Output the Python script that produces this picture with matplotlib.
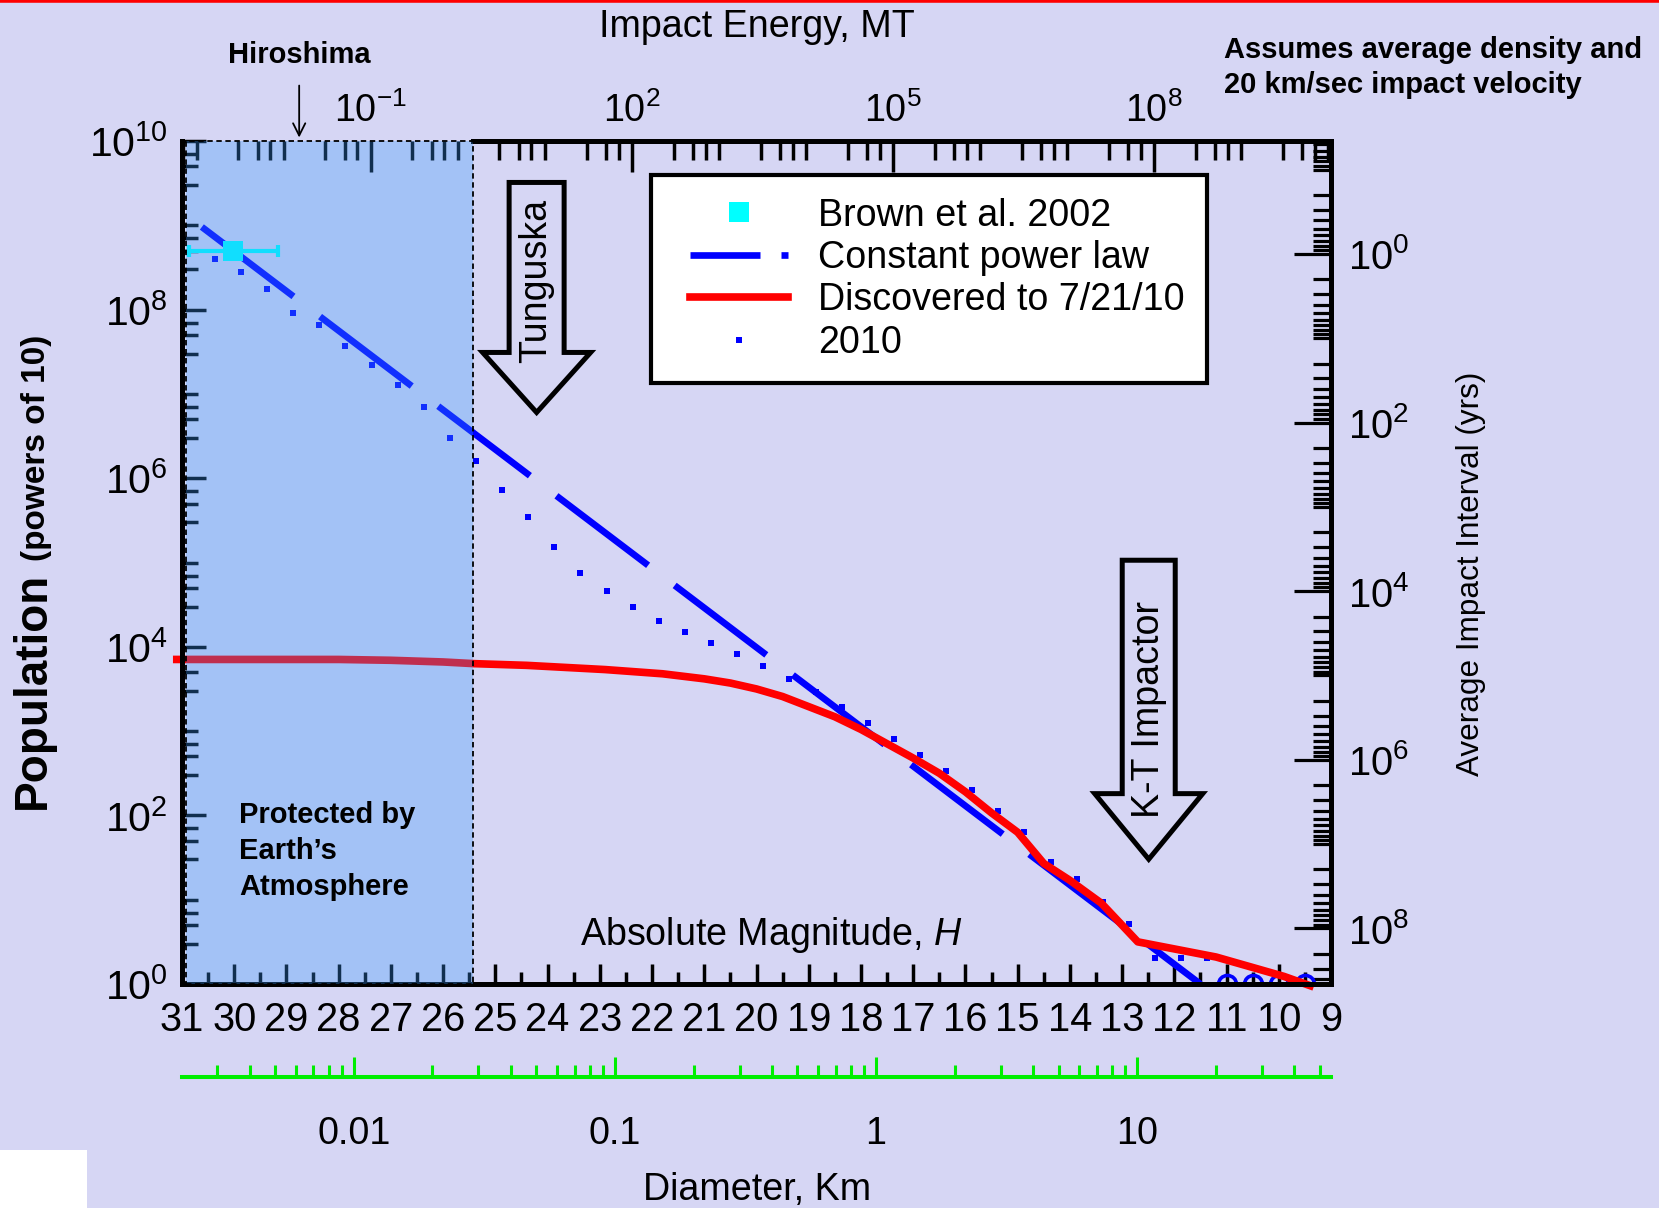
import numpy as np
import matplotlib
matplotlib.use("Agg")
import matplotlib.pyplot as plt
import matplotlib.transforms as mtransforms
from matplotlib import font_manager
from matplotlib.patches import Polygon, Rectangle
from matplotlib.lines import Line2D
from matplotlib.legend_handler import HandlerLine2D
from matplotlib.ticker import FixedLocator, FuncFormatter, NullFormatter

# ---------------- data ----------------
mag_range = [31, 9]
pop_range = [1e0, 1e10]

mag_major_ticks = list(range(9, 32))
mag_minor_ticks = [h + 0.5 for h in range(9, 31)]

pop_major_ticks = [1e0, 1e2, 1e4, 1e6, 1e8, 1e10]
pop_minor_ticks = [k * 10.0 ** n for n in range(0, 10) for k in (3, 5, 7)] + [10.0 ** n for n in (1, 3, 5, 7, 9)]

energy_major_ticks = [1e-1, 1e2, 1e5, 1e8]
energy_minor_ticks = [k * 10.0 ** n for n in range(-4, 11) for k in (1, 3, 5, 7)]

interval_major_ticks = [1e0, 1e2, 1e4, 1e6, 1e8]
interval_minor_ticks = [k * 10.0 ** n for n in range(-2, 10) for k in range(1, 10)]

diam_major_ticks = [0.01, 0.1, 1, 10]
diam_minor_ticks = [k * 10.0 ** n for n in range(-3, 2) for k in range(2, 10)]

brown_H = [30.02]
brown_logN = [8.69]
brown_Herr = [0.85]

powerlaw_H = [30.62, 11.5]
powerlaw_logN = [8.98, 0.0]

discovered_H = [31.1, 30.0, 29.0, 28.0, 27.0, 26.0, 25.4, 24.4, 22.9, 21.8, 21.0, 20.5,
                20.0, 19.5, 19.0, 18.5, 18.0, 17.5, 17.0, 16.5, 16.0, 15.5, 15.0, 14.5,
                14.0, 13.4, 12.7, 11.2, 9.9, 9.4]
discovered_logN = [3.85, 3.85, 3.85, 3.85, 3.84, 3.82, 3.80, 3.78, 3.73, 3.68, 3.62, 3.57,
                   3.50, 3.41, 3.29, 3.17, 3.02, 2.85, 2.68, 2.50, 2.28, 2.03, 1.80, 1.43,
                   1.23, 0.96, 0.50, 0.32, 0.09, -0.02]

est2010_H = [30.37, 29.87, 29.37, 28.87, 28.37, 27.87, 27.37, 26.87, 26.37, 25.87,
             25.37, 24.87, 24.37, 23.87, 23.37, 22.87, 22.37, 21.87, 21.37, 20.87,
             20.37, 19.87, 19.37, 18.87, 18.37, 17.87, 17.37, 16.87, 16.37, 15.87,
             15.37, 14.87, 14.37, 13.87, 13.37, 12.87, 12.37, 11.87, 11.37]
est2010_logN = [8.60, 8.45, 8.24, 7.96, 7.82, 7.57, 7.34, 7.10, 6.84, 6.48,
                6.20, 5.86, 5.54, 5.18, 4.88, 4.66, 4.47, 4.31, 4.18, 4.05,
                3.91, 3.77, 3.62, 3.46, 3.29, 3.10, 2.91, 2.72, 2.53, 2.30,
                2.05, 1.80, 1.45, 1.25, 0.97, 0.71, 0.31, 0.31, 0.31]

largest_H = [11.0, 10.5, 10.0, 9.5]
largest_logN = [0.0, 0.0, 0.0, 0.0]

atmosphere_H = [30.93, 25.43]
tunguska_tip = (24.21, 6.78)
kt_tip = (12.49, 1.48)
hiroshima_MT = 0.015

legend_labels = ['Brown et al. 2002', 'Constant power law', 'Discovered to 7/21/10', '2010']

# conversion constants
H_AT_1KM = 17.71
LOGE_AT_H0 = 15.43
LOG_K_INTERVAL = 8.66

# ---------------- fonts ----------------
_names = {f.name for f in font_manager.fontManager.ttflist}
NARROW = 'Liberation Sans Narrow' if 'Liberation Sans Narrow' in _names else 'Liberation Sans'
F = 1.0 if NARROW == 'Liberation Sans Narrow' else 0.82
S = 33 * F
plt.rcParams['font.family'] = [NARROW, 'DejaVu Sans']
plt.rcParams['mathtext.fontset'] = 'custom'
plt.rcParams['mathtext.default'] = 'regular'
plt.rcParams['mathtext.rm'] = NARROW
plt.rcParams['mathtext.it'] = NARROW + ':italic'

BG = '#d6d6f4'
GREEN = '#00ee00'
BLUE = '#0000ff'
RED = '#ff0000'
CYAN = '#00ffff'
SHADE = (56 / 255, 151 / 255, 252 / 255)


def h_to_diam(h):
    with np.errstate(all='ignore'):
        return 10 ** ((H_AT_1KM - np.asarray(h, float)) / 5)


def diam_to_h(d):
    with np.errstate(all='ignore'):
        return H_AT_1KM - 5 * np.log10(np.clip(np.asarray(d, float), 1e-300, None))


def h_to_energy(h):
    with np.errstate(all='ignore'):
        return 10 ** (LOGE_AT_H0 - 0.6 * np.asarray(h, float))


def energy_to_h(e):
    with np.errstate(all='ignore'):
        return (LOGE_AT_H0 - np.log10(np.clip(np.asarray(e, float), 1e-300, None))) / 0.6


def pop_to_interval(n):
    with np.errstate(all='ignore'):
        return 10 ** LOG_K_INTERVAL / np.clip(np.asarray(n, float), 1e-300, None)


def pow10(v, pos=None):
    return r'$10^{%d}$' % int(round(np.log10(v)))


W, Hpx = 1659, 1208
fig = plt.figure(figsize=(W / 100, Hpx / 100), dpi=100, facecolor=BG)
ax = fig.add_axes([182 / W, 1 - 984 / Hpx, 1149 / W, 843 / Hpx])
ax.set_facecolor(BG)
ax.set_yscale('log')
ax.set_xlim(mag_range)
ax.set_ylim(pop_range)

# ---------------- series ----------------
pl_line, = ax.plot(powerlaw_H, np.power(10.0, powerlaw_logN), color=BLUE, lw=4.8,
                   dashes=(17.25, 5), solid_capstyle='butt', zorder=2)
disc_line, = ax.plot(discovered_H, np.power(10.0, discovered_logN), color=RED, lw=5.5,
                     zorder=2.1, clip_on=False, solid_joinstyle='round')
dots, = ax.plot(est2010_H, np.power(10.0, est2010_logN), ls='none', marker='s', ms=4,
                mew=0, color=BLUE, zorder=2.05)
ax.plot(largest_H, np.power(10.0, largest_logN), ls='none', marker='o', ms=13, mfc='none',
        mec=BLUE, mew=2.6, zorder=2.05)
ax.errorbar(brown_H, np.power(10.0, brown_logN), xerr=brown_Herr, fmt='none', ecolor=CYAN,
            elinewidth=3, capsize=4.5, capthick=3, zorder=2.2)
brown_pt, = ax.plot(brown_H, np.power(10.0, brown_logN), ls='none', marker='s', ms=14,
                    mew=0, color=CYAN, zorder=2.3)

# protected region
ax.axvspan(atmosphere_H[0], atmosphere_H[1], facecolor=SHADE, alpha=0.317, lw=0, zorder=3)
ax.axvspan(atmosphere_H[0], atmosphere_H[1], facecolor='none', edgecolor='black', lw=1.3,
           linestyle=(0, (3, 2)), zorder=3.1, clip_on=False)

# ---------------- main axes styling ----------------
for side in ('left', 'bottom', 'right', 'top'):
    ax.spines[side].set_linewidth(3.6)
ax.spines['top'].set_bounds(atmosphere_H[1], mag_range[1])

ax.xaxis.set_major_locator(FixedLocator(mag_major_ticks))
ax.xaxis.set_minor_locator(FixedLocator(mag_minor_ticks))
ax.xaxis.set_major_formatter(FuncFormatter(lambda v, p: '%d' % round(v)))
ax.xaxis.set_minor_formatter(NullFormatter())
ax.tick_params(axis='x', which='both', direction='in', bottom=True, top=False,
               width=2.5, labelsize=35 * F, pad=12)
ax.tick_params(axis='x', which='major', length=14.4)
ax.tick_params(axis='x', which='minor', length=8.6)

ax.yaxis.set_major_locator(FixedLocator(pop_major_ticks))
ax.yaxis.set_minor_locator(FixedLocator(pop_minor_ticks))
ax.yaxis.set_major_formatter(FuncFormatter(pow10))
ax.yaxis.set_minor_formatter(NullFormatter())
ax.tick_params(axis='y', which='both', direction='in', left=True, right=False,
               width=2.5, labelsize=36 * F, pad=10)
ax.tick_params(axis='y', which='major', length=17)
ax.tick_params(axis='y', which='minor', length=11.5)

# top: impact energy
secx = ax.secondary_xaxis('top', functions=(h_to_energy, energy_to_h))
secx.spines['top'].set_visible(False)
secx.xaxis.set_major_locator(FixedLocator(energy_major_ticks))
secx.xaxis.set_minor_locator(FixedLocator(energy_minor_ticks))
secx.xaxis.set_major_formatter(FuncFormatter(pow10))
secx.xaxis.set_minor_formatter(NullFormatter())
secx.tick_params(which='both', direction='in', width=2.5, labelsize=S, pad=8)
secx.tick_params(which='major', length=22)
secx.tick_params(which='minor', length=14)

# right: impact interval
secy = ax.secondary_yaxis('right', functions=(pop_to_interval, pop_to_interval))
secy.spines['right'].set_linewidth(3.6)
secy.yaxis.set_major_locator(FixedLocator(interval_major_ticks))
secy.yaxis.set_minor_locator(FixedLocator(interval_minor_ticks))
secy.yaxis.set_major_formatter(FuncFormatter(pow10))
secy.yaxis.set_minor_formatter(NullFormatter())
secy.tick_params(which='both', direction='in', width=2.3, labelsize=35 * F, pad=12)
secy.tick_params(which='major', length=27)
secy.tick_params(which='minor', length=13)

# green diameter axis
secd = ax.secondary_xaxis(-0.110, functions=(h_to_diam, diam_to_h))
secd.spines['bottom'].set_color(GREEN)
secd.spines['bottom'].set_linewidth(2.9)
secd.xaxis.set_major_locator(FixedLocator(diam_major_ticks))
secd.xaxis.set_minor_locator(FixedLocator(diam_minor_ticks))
secd.xaxis.set_major_formatter(FuncFormatter(lambda v, p: '%g' % v))
secd.xaxis.set_minor_formatter(NullFormatter())
secd.tick_params(which='both', direction='in', color=GREEN, width=2.2, labelsize=S,
                 labelcolor='black', pad=28)
secd.tick_params(which='major', length=14.4)
secd.tick_params(which='minor', length=9)

# ---------------- legend ----------------
pl_proxy = Line2D([], [], color=BLUE, lw=4.8, dashes=(10.5, 3.15), solid_capstyle='butt')
leg = ax.legend(handles=[brown_pt, pl_proxy, disc_line, dots], labels=legend_labels,
                loc='upper left', bbox_to_anchor=(0.408, 0.9597), borderaxespad=0,
                frameon=True, fancybox=False, framealpha=1, facecolor='white',
                edgecolor='black', fontsize=S, handlelength=3.05, handletextpad=0.8,
                borderpad=0.6, labelspacing=0.17,
                handler_map={Line2D: HandlerLine2D(xpad=0.44)})
leg.get_frame().set_linewidth(3)
leg.set_zorder(6)


# ---------------- arrows ----------------
def hollow_arrow(tip, head_len, head_half, shaft_half, shaft_top):
    verts = [(0, 0), (-head_half, head_len), (-shaft_half, head_len), (-shaft_half, shaft_top),
             (shaft_half, shaft_top), (shaft_half, head_len), (head_half, head_len)]
    tr = fig.dpi_scale_trans + mtransforms.ScaledTranslation(tip[0], 10 ** tip[1], ax.transData)
    p = Polygon(verts, closed=True, fill=False, edgecolor='black', lw=3.6, joinstyle='miter',
                transform=tr, clip_on=False, zorder=5)
    ax.add_artist(p)


hollow_arrow(tunguska_tip, 0.60, 0.54, 0.275, 2.30)
hollow_arrow(kt_tip, 0.656, 0.54, 0.265, 2.99)
ax.annotate('Tunguska', xy=(tunguska_tip[0], 10 ** tunguska_tip[1]), xytext=(0, 95),
            textcoords='offset points', rotation=90, ha='center', va='center', fontsize=S, zorder=5)
ax.annotate('K-T Impactor', xy=(kt_tip[0], 10 ** kt_tip[1]), xytext=(0, 108),
            textcoords='offset points', rotation=90, ha='center', va='center', fontsize=S, zorder=5)

ax.annotate('Hiroshima', xy=(float(energy_to_h(hiroshima_MT)), pop_range[1]), xytext=(0, 62),
            textcoords='offset points', ha='center', va='center', fontsize=21,
            fontweight='bold', family='Liberation Sans', annotation_clip=False,
            arrowprops=dict(arrowstyle='->', color='black', lw=1.3, shrinkA=10, shrinkB=2.5,
                            mutation_scale=22))

# ---------------- texts ----------------
ax.text(0.0496, 0.158, 'Protected by\nEarth\u2019s\nAtmosphere', transform=ax.transAxes,
        ha='left', va='center', fontsize=21, fontweight='bold', family='Liberation Sans',
        linespacing=1.36, zorder=5)
ax.text(0.513, 0.058, r'Absolute Magnitude, $\mathit{H}$', transform=ax.transAxes,
        ha='center', va='center', fontsize=S, zorder=5)

fig.text(757 / W, 1 - 27 / Hpx, 'Impact Energy, MT', ha='center', va='center', fontsize=S)
fig.text(1224 / W, 1 - 67.5 / Hpx, 'Assumes average density and\n20 km/sec impact velocity',
         ha='left', va='center', fontsize=21, fontweight='bold', family='Liberation Sans',
         linespacing=1.36)
fig.text(1471 / W, 1 - 574 / Hpx, 'Average Impact Interval (yrs)', rotation=90, ha='center',
         va='center', fontsize=S * 0.84)
fig.text(45 / W, 1 - 809 / Hpx, 'Population', rotation=90, rotation_mode='anchor', ha='left',
         va='baseline', fontsize=33, fontweight='bold', family='Liberation Sans')
fig.text(45 / W, 1 - 561 / Hpx, '(powers of 10)', rotation=90, rotation_mode='anchor',
         ha='left', va='baseline', fontsize=24, fontweight='bold', family='Liberation Sans')
fig.text(757 / W, 1 - 1190 / Hpx, 'Diameter, Km', ha='center', va='center', fontsize=S)

# decorations of the slide
fig.add_artist(Line2D([0, 1], [1, 1], transform=fig.transFigure, color=RED, lw=4))
fig.add_artist(Rectangle((0, 0), 87 / W, 58 / Hpx, transform=fig.transFigure,
                         facecolor='white', edgecolor='none'))

fig.savefig('out.png', dpi=100, facecolor=BG)
